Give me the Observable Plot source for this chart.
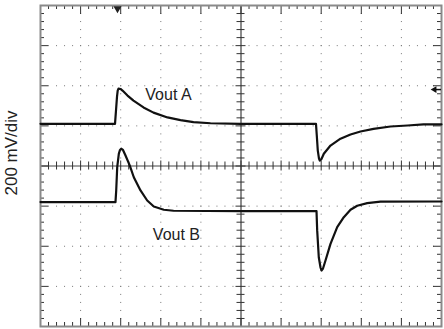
<!DOCTYPE html>
<html>
<head>
<meta charset="utf-8">
<script src="https://cdn.jsdelivr.net/npm/d3@7"></script>
<script src="https://cdn.jsdelivr.net/npm/@observablehq/plot@0.6"></script>
<style>
  html, body { margin: 0; padding: 0; background: #fff; }
</style>
</head>
<body>
<div id="chart"></div>
<script>
// Scope capture: time in horizontal divisions (0–10), voltage in mV (200 mV/div, ±4 div).
const tA = [0, 1.858, 1.883, 1.908, 1.925, 1.945, 1.995, 2.045, 2.170, 2.319, 2.569, 2.818, 3.167, 3.491, 3.815, 4.239, 4.988,
            6.870, 6.890, 6.915, 6.945, 6.965, 7.007, 7.065, 7.232, 7.481, 7.731, 7.980, 8.304, 8.728, 9.152, 9.551, 10];
const vA = [210, 210, 277, 346, 376, 386, 384, 376, 351, 326, 292, 266, 242, 229, 219, 213, 210,
            210, 152, 77, 37, 27, 35, 61, 102, 136, 157, 172, 185, 197, 202, 207, 207];

const tB = [0, 1.870, 1.888, 1.913, 1.953, 1.983, 2.012, 2.057, 2.120, 2.227, 2.327, 2.494, 2.661, 2.825, 3.075, 3.317, 4.988,
            6.883, 6.900, 6.940, 6.983, 7.007, 7.045, 7.107, 7.232, 7.399, 7.564, 7.731, 7.898, 8.147, 8.479, 10];
const vB = [-180, -180, -122, -6, 61, 80, 86, 80, 52, 2, -56, -122, -172, -202, -218, -223, -225,
            -225, -321, -455, -506, -521, -511, -471, -388, -305, -255, -218, -198, -185, -178, -177];

const traceNames = ["Vout A", "Vout B"];
const nameT = [3.19, 3.39];
const nameV = [356, -341];
const scaleLabel = "200 mV/div";
const triggerT = 1.92;
const markerV = 381;

// Graticule: 10 x 8 divisions, 5 minor ticks per division
const xTicks = d3.range(0, 51).map(i => ({v: i * 0.2, major: i % 5 === 0}));
const yTicks = d3.range(0, 41).map(i => ({v: -800 + i * 40, major: i % 5 === 0}));
const xGrid = [1, 2, 3, 4, 6, 7, 8, 9];
const yGrid = [-600, -400, -200, 200, 400, 600];

const pxX = 10 / 401;   // divisions per pixel
const pxY = 1600 / 321; // mV per pixel

const rowsA = tA.map((t, i) => ({t, v: vA[i]}));
const rowsB = tB.map((t, i) => ({t, v: vB[i]}));

const tickColor = "#333";

const chart = Plot.plot({
  width: 444,
  height: 329,
  marginTop: 5,
  marginRight: 3,
  marginBottom: 3,
  marginLeft: 40,
  x: {domain: [0, 10], axis: null},
  y: {domain: [-800, 800], axis: null},
  style: {fontFamily: "'Liberation Sans', Arial, sans-serif", background: "#fff"},
  marks: [
    // dotted division lines
    Plot.ruleX(xGrid, {stroke: "#777", strokeWidth: 1, strokeDasharray: `1,${8.025 - 1}`}),
    Plot.ruleY(yGrid, {stroke: "#777", strokeWidth: 1, strokeDasharray: `1,${8.02 - 1}`}),
    // center cross
    Plot.ruleX([5], {stroke: "#666", strokeWidth: 1.5}),
    Plot.ruleY([0], {stroke: "#444", strokeWidth: 1}),
    // ticks on the center cross
    Plot.ruleX(xTicks, {x: "v", y1: d => -(d.major ? 5 : 4) * pxY, y2: d => (d.major ? 5 : 4) * pxY, stroke: tickColor, strokeWidth: 1}),
    Plot.ruleY(yTicks, {y: "v", x1: d => 5 - (d.major ? 5 : 4) * pxX, x2: d => 5 + (d.major ? 5 : 4) * pxX, stroke: tickColor, strokeWidth: 1}),
    // ticks on the frame edges
    Plot.ruleY(yTicks, {y: "v", x1: 0, x2: d => (d.major ? 8 : 4) * pxX, stroke: tickColor, strokeWidth: 1}),
    Plot.ruleY(yTicks, {y: "v", x1: 10, x2: d => 10 - (d.major ? 8 : 4) * pxX, stroke: tickColor, strokeWidth: 1}),
    Plot.ruleX(xTicks, {x: "v", y1: 800, y2: d => 800 - (d.major ? 9 : 4) * pxY, stroke: tickColor, strokeWidth: 1}),
    Plot.ruleX(xTicks, {x: "v", y1: -800, y2: d => -800 + (d.major ? 8 : 4) * pxY, stroke: tickColor, strokeWidth: 1}),
    Plot.frame({stroke: "#8a8a8a", strokeWidth: 2}),
    // traces
    Plot.line(rowsA, {x: "t", y: "v", stroke: "#111", strokeWidth: 2.2, strokeLinejoin: "round"}),
    Plot.line(rowsB, {x: "t", y: "v", stroke: "#111", strokeWidth: 2.2, strokeLinejoin: "round"}),
    // trace names
    Plot.text(traceNames, {x: (d, i) => nameT[i], y: (d, i) => nameV[i], text: d => d, fontSize: 16, fill: "#222"}),
    // trigger position marker
    Plot.dot([triggerT], {x: d => d, y: 800, symbol: "triangle", rotate: 180, r: 3, fill: "#222", stroke: null, dy: 3}),
    // reference level marker
    Plot.ruleY([markerV], {y: d => d, x1: 10 - 7 * pxX, x2: 10, stroke: "#111", strokeWidth: 1.5}),
    Plot.dot([markerV], {x: 10 - 7 * pxX, y: d => d, symbol: "triangle", rotate: -90, r: 2.5, fill: "#111", stroke: null}),
    // vertical scale label
    Plot.text([scaleLabel], {x: 0, y: 0, rotate: -90, textAnchor: "middle", lineAnchor: "middle", dx: -29, dy: -13, fontSize: 17, fill: "#222"})
  ]
});

document.getElementById("chart").appendChild(chart);
</script>
</body>
</html>
